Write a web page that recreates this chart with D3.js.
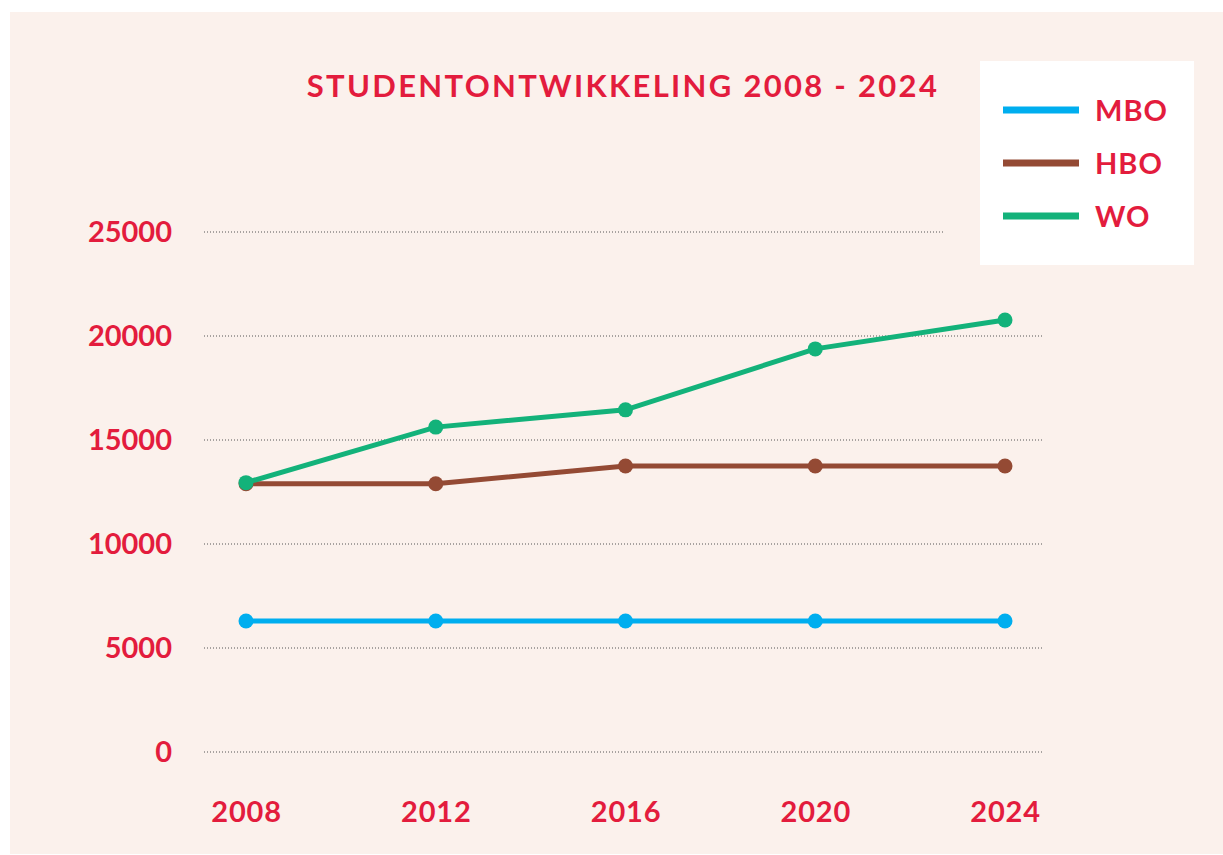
<!DOCTYPE html>
<html>
<head>
<meta charset="utf-8">
<script src="https://cdn.jsdelivr.net/npm/d3@7"></script>
<style>
  html, body { margin: 0; padding: 0; background: #ffffff; }
  svg { display: block; }
  text { font-family: Lato, "Noto Sans", sans-serif; font-weight: 700; }
</style>
</head>
<body>
<svg id="chart" width="1223" height="855"></svg>
<script>
const years = ["2008", "2012", "2016", "2020", "2024"];
const mbo = [6300, 6300, 6300, 6300, 6300];
const hbo = [12900, 12900, 13750, 13750, 13750];
const wo  = [12950, 15620, 16450, 19380, 20770];
const seriesNames = ["MBO", "HBO", "WO"];
const yTicks = [0, 5000, 10000, 15000, 20000, 25000];
const titleText = "STUDENTONTWIKKELING 2008 - 2024";

const colors = { MBO: "#00aeef", HBO: "#944a34", WO: "#13b27a" };
const red = "#e31c3d";
const series = [
  { name: "MBO", values: mbo },
  { name: "HBO", values: hbo },
  { name: "WO", values: wo }
];

const svg = d3.select("#chart");
// panel background
svg.append("rect").attr("x", 10).attr("y", 12).attr("width", 1213).attr("height", 842).attr("fill", "#fbf1ec");

const x = d3.scalePoint().domain(years).range([246, 1005]);
const y = d3.scaleLinear().domain([0, 25000]).range([752, 232]);

// gridlines
const grid = svg.append("g").attr("class", "grid");
grid.selectAll("line").data(yTicks).join("line")
  .attr("x1", 204)
  .attr("x2", d => d === 25000 ? 943 : 1043)
  .attr("y1", d => y(d)).attr("y2", d => y(d))
  .attr("stroke", "#555").attr("stroke-width", 1).attr("stroke-dasharray", "1,2");

// y axis labels
const yAxis = d3.axisLeft(y).tickValues(yTicks).tickSize(0).tickPadding(0).tickFormat(d3.format("d"));
const yg = svg.append("g").attr("transform", "translate(172,0)").call(yAxis);
yg.select(".domain").remove();
yg.selectAll("text").attr("fill", red).attr("font-size", 29).attr("font-family", "Lato, 'Noto Sans', sans-serif").attr("font-weight", 700).attr("dy", "0.33em");

// x axis labels
const xAxis = d3.axisBottom(x).tickSize(0).tickPadding(0);
const xg = svg.append("g").attr("transform", "translate(0,801)").call(xAxis);
xg.select(".domain").remove();
xg.selectAll("text").attr("fill", red).attr("font-size", 29).attr("font-family", "Lato, 'Noto Sans', sans-serif").attr("font-weight", 700).attr("letter-spacing", 0.8);

// lines
const line = d3.line().x((d, i) => x(years[i])).y(d => y(d));
series.forEach(s => {
  svg.append("path").datum(s.values)
    .attr("d", line).attr("fill", "none")
    .attr("stroke", colors[s.name]).attr("stroke-width", 5);
  svg.append("g").selectAll("circle").data(s.values).join("circle")
    .attr("cx", (d, i) => x(years[i])).attr("cy", d => y(d)).attr("r", 7.5)
    .attr("fill", colors[s.name]);
});

// title
svg.append("text").attr("x", 623).attr("y", 97).attr("text-anchor", "middle")
  .attr("fill", red).attr("font-size", 31).attr("letter-spacing", 2.3).text(titleText);

// legend
const lg = svg.append("g");
lg.append("rect").attr("x", 980).attr("y", 61).attr("width", 214).attr("height", 204).attr("fill", "#ffffff");
const ly = d3.scalePoint().domain(seriesNames).range([110, 216]);
seriesNames.forEach(n => {
  lg.append("line").attr("x1", 1003).attr("x2", 1079).attr("y1", ly(n)).attr("y2", ly(n))
    .attr("stroke", colors[n]).attr("stroke-width", 7);
  lg.append("text").attr("x", 1095).attr("y", ly(n) + 11).attr("fill", red)
    .attr("font-size", 29).attr("letter-spacing", 1).text(n);
});
</script>
</body>
</html>
